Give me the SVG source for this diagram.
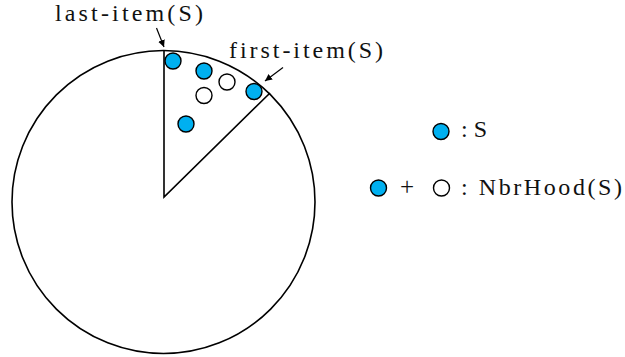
<svg xmlns="http://www.w3.org/2000/svg" width="625" height="357" viewBox="0 0 625 357">
<style>
text{font-family:"Liberation Serif",serif;font-size:24px;fill:#111}
.s{fill:#00b0f0;stroke:#000;stroke-width:1.4}
.n{fill:#fff;stroke:#000;stroke-width:1.4}
.ln{fill:none;stroke:#000;stroke-width:1.6}
</style>
<defs>
<marker id="ah" viewBox="0 0 10 10" refX="10" refY="5" markerWidth="7" markerHeight="7" orient="auto" markerUnits="userSpaceOnUse">
<path d="M0,0 L10,5 L0,10 z" fill="#000"/>
</marker>
</defs>
<rect width="625" height="357" fill="#fff"/>
<g id="disk">
<circle cx="163.5" cy="202" r="151.5" class="ln"/>
<polyline points="164,51 164,197 270,93" class="ln"/>
</g>
<g id="points">
<circle cx="173" cy="61" r="8" class="s"/>
<circle cx="204" cy="71" r="8" class="s"/>
<circle cx="254" cy="91.5" r="8" class="s"/>
<circle cx="186" cy="124" r="8" class="s"/>
<circle cx="227" cy="82" r="8" class="n"/>
<circle cx="204" cy="95.5" r="8" class="n"/>
</g>
<g id="connectors">
<line x1="156.5" y1="28" x2="164" y2="47" stroke="#000" stroke-width="1.2" marker-end="url(#ah)"/>
<line x1="283" y1="67.5" x2="265" y2="81" stroke="#000" stroke-width="1.2" marker-end="url(#ah)"/>
</g>
<g id="label-last">
<text x="55" y="21" textLength="148" lengthAdjust="spacing">last-item(S)</text>
</g>
<g id="label-first">
<text x="229" y="58" textLength="154" lengthAdjust="spacing">first-item(S)</text>
</g>
<g id="legend-s">
<circle cx="441" cy="131.5" r="8" class="s"/>
<text x="461" y="137" textLength="26" lengthAdjust="spacing">: S</text>
</g>
<g id="legend-nbr">
<circle cx="378.5" cy="188" r="8" class="s"/>
<text x="400" y="195" style="font-size:25px">+</text>
<circle cx="441.5" cy="188" r="8" class="n"/>
<text x="461" y="195" textLength="161" lengthAdjust="spacing">: NbrHood(S)</text>
</g>
</svg>
